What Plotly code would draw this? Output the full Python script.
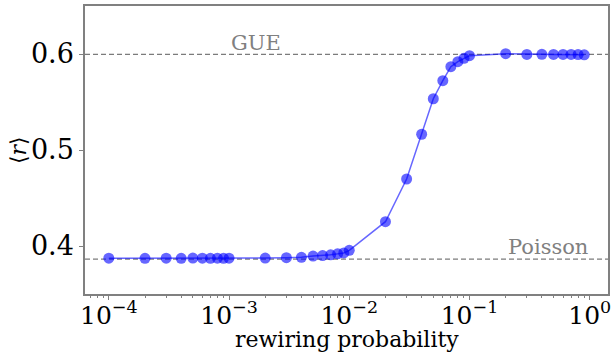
import plotly.graph_objects as go
import numpy as np

# rewiring probability values
p_vals = [1e-4, 2e-4, 3e-4, 4e-4, 5e-4, 6e-4, 7e-4, 8e-4, 9e-4,
          1e-3, 2e-3, 3e-3, 4e-3, 5e-3, 6e-3, 7e-3, 8e-3, 9e-3,
          1e-2, 2e-2, 3e-2, 4e-2, 5e-2, 6e-2, 7e-2, 8e-2, 9e-2,
          0.1, 0.2, 0.3, 0.4, 0.5, 0.6, 0.7, 0.8, 0.9]
# mean level-spacing ratio <r>
r_vals = [0.3873, 0.3872, 0.3873, 0.3872, 0.3874, 0.3873, 0.3872, 0.3873, 0.3872,
          0.3873, 0.3874, 0.3878, 0.3882, 0.3895, 0.3900, 0.3908, 0.3918, 0.3928,
          0.3955, 0.4253, 0.4698, 0.5164, 0.5534, 0.5722, 0.5868, 0.5920, 0.5955,
          0.5983, 0.6003, 0.5996, 0.5997, 0.5996, 0.5995, 0.5995, 0.5994, 0.5992]

gue_level = 0.5996
poisson_level = 0.3863

x_tickvals = [1e-4, 1e-3, 1e-2, 1e-1, 1e0]
x_ticktext = ["10<sup>\u22124</sup>", "10<sup>\u22123</sup>", "10<sup>\u22122</sup>",
              "10<sup>\u22121</sup>", "10<sup>0</sup>"]
y_tickvals = [0.4, 0.5, 0.6]
y_ticktext = ["0.4", "0.5", "0.6"]
x_title = "rewiring probability"
y_title = "\u27e8<i>r</i>\u27e9"

minor_vals = [k * 10.0 ** e for e in range(-5, 1) for k in range(2, 10)]

FONT = "DejaVu Serif"
AX = "#808080"

fig = go.Figure()
fig.add_trace(go.Scatter(
    x=p_vals, y=r_vals, mode="lines+markers",
    line=dict(color="rgba(0,0,255,0.6)", width=1.5),
    marker=dict(color="rgba(0,0,255,0.6)", size=11, line=dict(width=0)),
    showlegend=False,
))

for lvl in (gue_level, poisson_level):
    fig.add_shape(type="line", xref="paper", x0=0, x1=1, yref="y", y0=lvl, y1=lvl,
                  line=dict(color="rgba(100,100,100,0.85)", width=1.2, dash="5px,3px"), layer="below")

fig.add_annotation(x=-3, y=0.6118, xref="x", yref="y", text="GUE", showarrow=False,
                   xanchor="left", yanchor="middle", font=dict(family=FONT, size=21, color="#808080"))
fig.add_annotation(x=np.log10(0.2), y=0.3985, xref="x", yref="y", text="Poisson", showarrow=False,
                   xanchor="left", yanchor="middle", font=dict(family=FONT, size=21, color="#808080"))

# axis titles
fig.add_annotation(x=0.5, y=0, xref="paper", yref="paper", text=x_title, showarrow=False,
                   xanchor="center", yanchor="middle", yshift=-45,
                   font=dict(family=FONT, size=22, color="black"))
fig.add_annotation(x=0, y=0.5, xref="paper", yref="paper", text=y_title, showarrow=False,
                   xanchor="center", yanchor="middle", xshift=-67, textangle=-90,
                   font=dict(family=FONT, size=22, color="black"))

fig.update_layout(
    width=614, height=352,
    margin=dict(l=85, r=6, t=6, b=58),
    paper_bgcolor="white", plot_bgcolor="white",
    font=dict(family=FONT, color="black"),
)
fig.update_xaxes(
    type="log", range=[-4.198, 0.152], automargin=False,
    tickmode="array", tickvals=x_tickvals, ticktext=x_ticktext,
    tickfont=dict(family=FONT, size=25, color="black"),
    ticks="outside", ticklen=4, tickwidth=1, tickcolor=AX,
    ticklabelstandoff=-6,
    showline=True, linecolor=AX, linewidth=1.5, mirror=True,
    showgrid=False, zeroline=False,
    minor=dict(tickmode="array", tickvals=minor_vals, ticks="outside", ticklen=2.5,
               tickwidth=0.8, tickcolor=AX, showgrid=False),
)
fig.update_yaxes(
    range=[0.35, 0.65], automargin=False,
    tickmode="array", tickvals=y_tickvals, ticktext=y_ticktext,
    tickfont=dict(family=FONT, size=27, color="black"),
    ticks="outside", ticklen=4, tickwidth=1, tickcolor=AX,
    showline=True, linecolor=AX, linewidth=1.5, mirror=True,
    showgrid=False, zeroline=False,
)

fig.write_html("out.html")
